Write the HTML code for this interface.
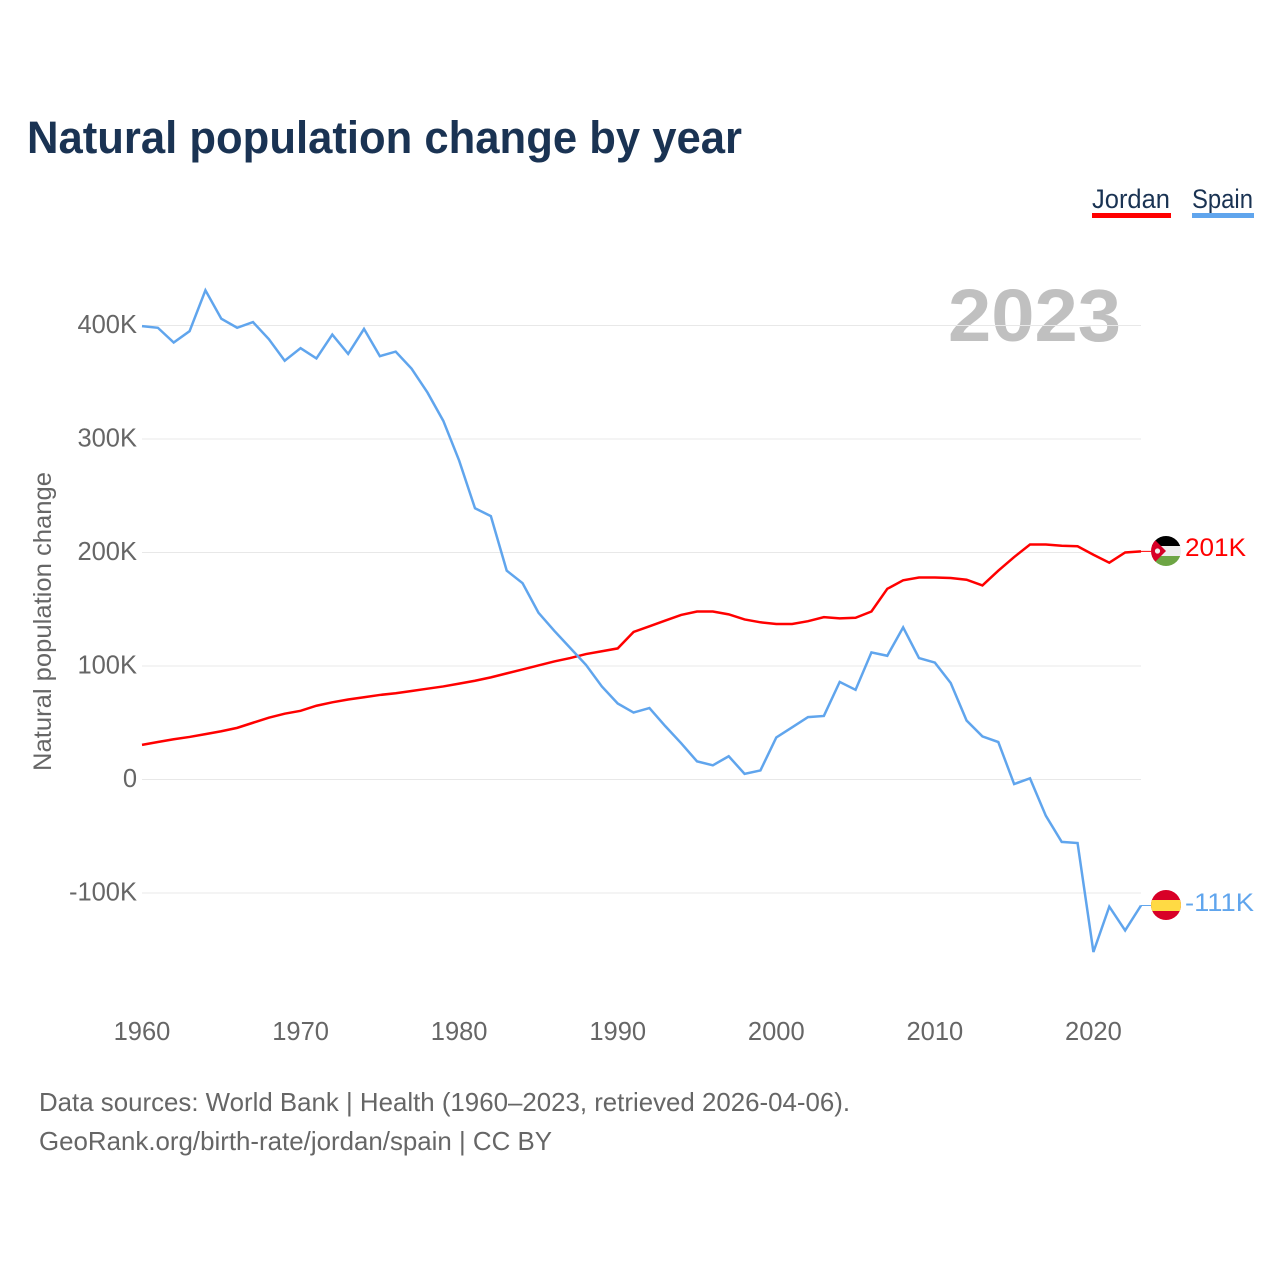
<!DOCTYPE html>
<html lang="en">
<head>
<meta charset="utf-8">
<title>Natural population change by year</title>
<style>
html,body{margin:0;padding:0;background:#fff;width:1280px;height:1280px;overflow:hidden}
svg{display:block}
text{font-family:"Liberation Sans",sans-serif}
</style>
</head>
<body>
<svg id="chart" xmlns="http://www.w3.org/2000/svg" width="1280" height="1280" viewBox="0 0 1280 1280">
  <defs>
    <clipPath id="clip-jordan"><circle cx="1166" cy="551" r="15"/></clipPath>
    <clipPath id="clip-spain"><circle cx="1166" cy="905" r="15"/></clipPath>
  </defs>
  <text x="27" y="153" font-size="45" font-weight="700" fill="#1a3353" textLength="715" lengthAdjust="spacingAndGlyphs">Natural population change by year</text>
  <g>
    <text x="1092" y="208" font-size="27" fill="#1a3353" textLength="78" lengthAdjust="spacingAndGlyphs">Jordan</text>
    <rect x="1092" y="213" width="79" height="5" fill="#ff0000"/>
  </g>
  <g>
    <text x="1192" y="208" font-size="27" fill="#1a3353" textLength="61" lengthAdjust="spacingAndGlyphs">Spain</text>
    <rect x="1192" y="213" width="62" height="5" fill="#60a5ed"/>
  </g>
  <text x="948" y="341" font-size="74" font-weight="700" fill="#c0c0c0" textLength="173" lengthAdjust="spacingAndGlyphs">2023</text>
  <g id="grid"></g>
  <g id="y-ticks"></g>
  <g id="x-ticks"></g>
  <text transform="translate(51,771) rotate(-90)" font-size="25" fill="#666666" textLength="299" lengthAdjust="spacingAndGlyphs">Natural population change</text>
  <g id="series"></g>
  <g clip-path="url(#clip-jordan)">
    <rect x="1151" y="536" width="30" height="10" fill="#000000"/>
    <rect x="1151" y="546" width="30" height="10" fill="#eeeeee"/>
    <rect x="1151" y="556" width="30" height="10" fill="#6da544"/>
    <polygon points="1151,536 1151,566 1166,551" fill="#d80027"/>
    <circle cx="1157.5" cy="551" r="2.6" fill="#eeeeee"/>
  </g>
  <g clip-path="url(#clip-spain)">
    <rect x="1151" y="890" width="30" height="30" fill="#d80027"/>
    <rect x="1151" y="900" width="30" height="11" fill="#ffda44"/>
  </g>
  <text x="1185" y="556" font-size="25" fill="#ff0000" textLength="61" lengthAdjust="spacingAndGlyphs">201K</text>
  <text x="1185" y="911" font-size="25" fill="#60a5ed" textLength="69" lengthAdjust="spacingAndGlyphs">-111K</text>
  <text x="39" y="1111" font-size="26" fill="#666666" textLength="811" lengthAdjust="spacingAndGlyphs">Data sources: World Bank | Health (1960–2023, retrieved 2026-04-06).</text>
  <text x="39" y="1150" font-size="26" fill="#666666" textLength="513" lengthAdjust="spacingAndGlyphs">GeoRank.org/birth-rate/jordan/spain | CC BY</text>
</svg>
<script>
var startYear = 1960;
var yTickValues = [-100, 0, 100, 200, 300, 400];
var yTickLabels = ['-100K', '0', '100K', '200K', '300K', '400K'];
var xTickYears = [1960, 1970, 1980, 1990, 2000, 2010, 2020];
var jordanValues = [30.5,33,35.5,37.5,40,42.5,45.5,50,54.5,58,60.5,65,68,70.5,72.5,74.5,76,78,80,82,84.5,87,90,93.5,97,100.5,104,107,110.5,113,115.5,130,135,140,145,148,148,145.5,141,138.5,137,137,139.5,143,142,142.5,148,168,175.5,178,178,177.5,176,171,184,196,207,207,206,205.5,198,191,200,201];
var spainValues = [399.5,398,385,395,431,406,398,403,388,369,380,371,392,375,397,373,377,362,341,316,281,239,232,184,173,147,131,116,101,82,67,59,63,47,32,16,12.5,20.5,5,8,37,46,55,56,86,79,112,109,134,107,103,85,52,38,33,-4,1,-32,-55,-56,-152,-112,-133,-111];

var NS = 'http://www.w3.org/2000/svg';
function xScale(year) { return 142 + (year - 1960) * (999 / 63); }
function yScale(value) { return 779.5 - value * 1.135; }
function make(tag, attrs, parent) {
  var el = document.createElementNS(NS, tag);
  for (var k in attrs) { el.setAttribute(k, attrs[k]); }
  parent.appendChild(el);
  return el;
}
var grid = document.getElementById('grid');
var yTicks = document.getElementById('y-ticks');
var xTicks = document.getElementById('x-ticks');
var seriesGroup = document.getElementById('series');

yTickValues.forEach(function (v, i) {
  var line = make('line', { x1: 142, x2: 1141, y1: yScale(v), y2: yScale(v), stroke: '#e8e8e8', 'stroke-width': 1 }, grid);
  
  
  var t = make('text', { x: 137, y: yScale(v) + 7.5, 'font-size': 25.5, fill: '#666666', 'text-anchor': 'end' }, yTicks);
  t.textContent = yTickLabels[i];
  
  
});
xTickYears.forEach(function (yr) {
  var t = make('text', { x: xScale(yr), y: 1040, 'font-size': 25.5, fill: '#666666', 'text-anchor': 'middle' }, xTicks);
  t.textContent = String(yr);
  
  
});
function drawSeries(values, color, name) {
  var pts = values.map(function (v, i) { return xScale(startYear + i).toFixed(2) + ',' + yScale(v).toFixed(2); });
  var line = make('polyline', { points: pts.join(' '), fill: 'none', stroke: color, 'stroke-width': 2.5, 'stroke-linejoin': 'miter' }, seriesGroup);
  
  
  var last = yScale(values[values.length - 1]);
  var leader = make('line', { x1: xScale(startYear + values.length - 1), x2: 1152, y1: last, y2: last, stroke: color, 'stroke-width': 1 }, seriesGroup);
  
  
}
drawSeries(jordanValues, '#ff0000', 'line-jordan');
drawSeries(spainValues, '#60a5ed', 'line-spain');
</script>
</body>
</html>
